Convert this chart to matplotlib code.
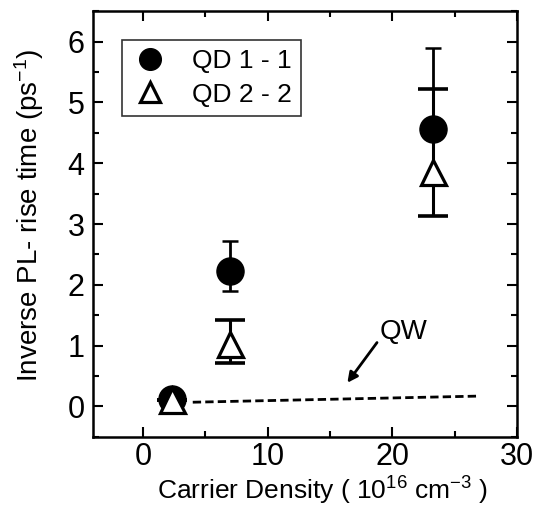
import matplotlib
matplotlib.use("Agg")
import matplotlib.pyplot as plt
import numpy as np

plt.rcParams['font.family'] = ['Liberation Sans', 'DejaVu Sans']
plt.rcParams['mathtext.fontset'] = 'custom'
plt.rcParams['mathtext.rm'] = 'Liberation Sans'
plt.rcParams['mathtext.it'] = 'Liberation Sans'

# data
density = [2.3, 7.0, 23.3]
qd11 = [0.13, 2.22, 4.56]
qd11_low = [0.0, 0.32, 0.91]
qd11_high = [0.0, 0.50, 1.34]
qd22 = [0.10, 1.02, 3.85]
qd22_low = [0.0, 0.30, 0.72]
qd22_high = [0.0, 0.41, 1.37]
qw_x = [4.0, 26.8]
qw_y = [0.07, 0.17]

fig = plt.figure(figsize=(5.52, 5.08), dpi=100)
ax = fig.add_axes([0.1685, 0.140, 0.768, 0.838])

# QD 2-2 error bars (thick caps)
ax.errorbar(density, qd22, yerr=[qd22_low, qd22_high], fmt='none', ecolor='black',
            elinewidth=2.2, capsize=10.5, capthick=2.6, zorder=2)
# QD 1-1 error bars (thin caps)
ax.errorbar(density, qd11, yerr=[qd11_low, qd11_high], fmt='none', ecolor='black',
            elinewidth=2.0, capsize=6, capthick=1.8, zorder=2)

ax.plot(density, qd11, linestyle='none', marker='o', ms=19.5, mfc='black', mec='black',
        label='QD 1 - 1', zorder=3)
ax.plot(density, qd22, linestyle='none', marker='^', ms=18, mfc='white', mec='black',
        mew=2.3, label='QD 2 - 2', zorder=4)

ax.plot(qw_x, qw_y, color='black', linestyle=(0, (3, 1.5)), lw=2.0, zorder=1)

ax.annotate('QW', xy=(16.4, 0.39), xytext=(19.0, 1.22), fontsize=20,
            ha='left', va='center',
            arrowprops=dict(arrowstyle='-|>', color='black', lw=2.0,
                            mutation_scale=15, shrinkA=0, shrinkB=0,
                            relpos=(0.0, 0.25)))

ax.set_xlim(-4, 30)
ax.set_ylim(-0.5, 6.5)
ax.set_xticks([0, 10, 20, 30])
ax.set_xticks([5, 15, 25], minor=True)
ax.set_yticks([0, 1, 2, 3, 4, 5, 6])
ax.set_yticks(np.arange(-0.5, 6.6, 1.0), minor=True)
ax.tick_params(which='both', direction='in', top=True, right=True, width=1.5)
ax.tick_params(which='major', length=7, labelsize=22)
ax.tick_params(axis='x', which='major', pad=4)
ax.tick_params(axis='y', which='major', pad=6)
ax.tick_params(which='minor', length=4)
for s in ax.spines.values():
    s.set_linewidth(1.8)

ax.set_xlabel(r'Carrier Density ( 10$^{16}$ cm$^{-3}$ )', fontsize=19)
ax.xaxis.set_label_coords(0.5425, -0.09)
ax.set_ylabel(r'Inverse PL- rise time (ps$^{-1}$)', fontsize=20)
ax.yaxis.set_label_coords(-0.112, 0.521)

leg = ax.legend(loc='upper left', bbox_to_anchor=(0.068, 0.932), borderaxespad=0,
                fontsize=19, frameon=True, fancybox=False, edgecolor='black',
                handletextpad=0.9, borderpad=0.35, labelspacing=0.35,
                handlelength=1.4, markerscale=0.8)
leg.get_frame().set_linewidth(1.2)

fig.savefig('out.png', dpi=100)
